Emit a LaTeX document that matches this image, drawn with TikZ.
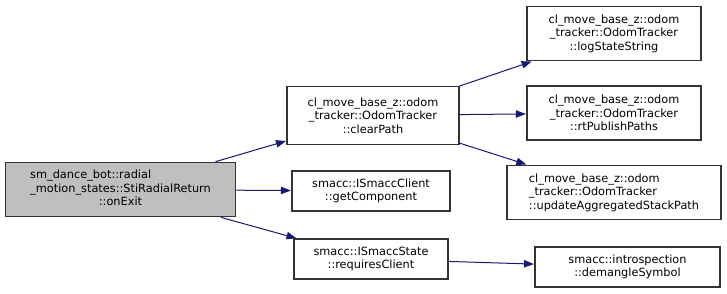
\documentclass[tikz,border=0pt]{standalone}
\usepackage{fontspec}
\setmainfont{DejaVu Sans}
\usetikzlibrary{arrows.meta}
\definecolor{edgeblue}{HTML}{191970}
\definecolor{rootgray}{HTML}{BFBFBF}
\definecolor{boxline}{HTML}{333333}

\begin{document}
\begin{tikzpicture}[
  x=0.75pt, y=-0.75pt,
  fn/.style={rectangle, draw=boxline, line width=0.8pt, fill=white,
             inner sep=0pt, align=center, font=\fontsize{8.5}{10.1}\selectfont},
  call/.style={-{Triangle[length=7.5pt, width=5.5pt]}, draw=edgeblue,
               line width=0.75pt, shorten >=0.4pt}
]

\useasboundingbox (0,0) rectangle (727,293);

% === caller ===
\node[fn, fill=rootgray, minimum width=173pt, minimum height=41pt]
  (onexit) at (120.5,189.5)
  {\begin{tabular}{@{}l@{}}sm\_dance\_bot::radial\\
   \_motion\_states::StiRadialReturn\\
   \multicolumn{1}{@{}c@{}}{::onExit}\end{tabular}};

% === first level ===
\node[fn, minimum width=129pt, minimum height=43pt] (clearpath) at (373,115.5)
  {cl\_move\_base\_z::odom\\ \_tracker::OdomTracker\\ ::clearPath};
\node[fn, minimum width=118.5pt, minimum height=30pt] (getcomp) at (371,191)
  {smacc::ISmaccClient\\ ::getComponent};
\node[fn, minimum width=115.5pt, minimum height=30pt] (reqclient) at (371,259)
  {smacc::ISmaccState\\ ::requiresClient};

% === second level ===
\node[fn, minimum width=130.5pt, minimum height=41pt] (logstate) at (614,33.5)
  {cl\_move\_base\_z::odom\\ \_tracker::OdomTracker\\ ::logStateString};
\node[fn, minimum width=130.5pt, minimum height=40.5pt] (rtpublish) at (614,113)
  {cl\_move\_base\_z::odom\\ \_tracker::OdomTracker\\ ::rtPublishPaths};
\node[fn, minimum width=160.5pt, minimum height=41pt, align=left] (updstack) at (614,192.5)
  {cl\_move\_base\_z::odom\\ \_tracker::OdomTracker\\ ::updateAggregatedStackPath};
\node[fn, minimum width=138.75pt, minimum height=30pt] (demangle) at (627.5,267)
  {smacc::introspection\\ ::demangleSymbol};

% === calls ===
\draw[call] (onexit) -- (clearpath);
\draw[call] (onexit) -- (getcomp);
\draw[call] (onexit) -- (reqclient);
\draw[call] (clearpath) -- (logstate);
\draw[call] (clearpath) -- (rtpublish);
\draw[call] (clearpath) -- (updstack);
\draw[call] (reqclient) -- (demangle);

\end{tikzpicture}
\end{document}
